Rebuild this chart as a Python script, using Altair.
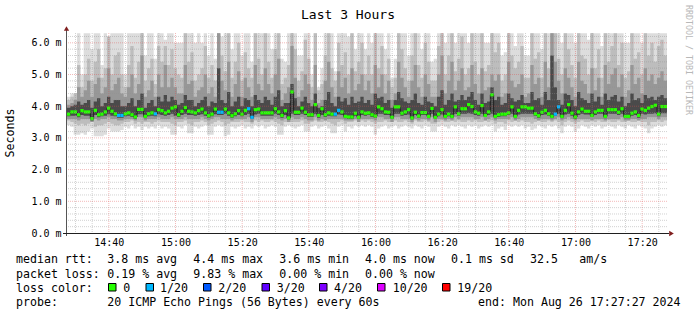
import altair as alt
import pandas as pd

MONO = "DejaVu Sans Mono"
START = pd.Timestamp("2024-08-26 14:27:27")

# median RTT per minute (ms)
median = [
    3.75, 3.82, 3.82, 3.73, 3.86, 3.82, 3.82, 3.61, 3.87, 3.73, 3.75, 3.82, 3.94, 3.84, 3.76,
    3.71, 3.71, 3.76, 3.79, 3.73, 3.66, 3.90, 3.90, 3.68, 3.76, 3.79, 3.76, 3.89, 3.86, 3.79,
    3.84, 3.94, 3.98, 3.73, 3.84, 3.96, 3.84, 3.82, 3.79, 3.86, 3.91, 3.79, 3.70, 3.75, 3.91,
    3.81, 3.81, 3.91, 3.79, 3.70, 3.76, 3.86, 3.75, 3.87, 3.92, 3.65, 3.89, 3.91, 3.79, 3.79,
    3.79, 3.79, 3.92, 3.82, 3.71, 3.86, 3.63, 4.45, 3.81, 3.81, 3.94, 3.81, 3.73, 3.73, 4.05,
    3.71, 3.92, 3.73, 3.79, 3.75, 3.75, 3.87, 3.82, 3.68, 3.66, 3.66, 3.78, 3.65, 3.82, 3.78,
    3.79, 3.73, 3.69, 3.98, 3.92, 3.82, 3.81, 3.65, 3.98, 3.98, 3.78, 3.82, 3.89, 3.63, 3.81,
    3.69, 3.80, 3.80, 3.68, 3.93, 3.65, 3.75, 3.89, 3.68, 3.75, 3.68, 3.98, 3.76, 3.92, 3.92,
    4.05, 3.99, 3.82, 3.78, 4.02, 3.71, 3.82, 4.36, 3.68, 3.73, 3.75, 3.75, 3.79, 3.98, 3.68,
    3.87, 3.98, 3.98, 3.94, 3.94, 3.76, 3.70, 3.81, 3.87, 3.76, 3.68, 3.75, 3.98, 3.68, 3.87,
    4.05, 3.78, 3.66, 3.82, 3.91, 3.84, 3.84, 3.71, 3.82, 3.87, 3.87, 3.68, 3.89, 3.89, 3.89,
    3.81, 3.92, 3.68, 3.68, 3.78, 3.82, 3.71, 3.91, 3.87, 3.94, 3.99, 4.03, 3.75, 3.99, 3.99,
]

# lost pings per minute (out of 20)
loss = [
    0, 0, 0, 0, 0, 0, 0, 0, 0, 0, 0, 0, 0, 0, 0, 1, 1, 0, 0, 0, 0, 0, 0, 0, 0, 0, 1, 0, 0, 0,
    0, 0, 0, 0, 0, 0, 0, 0, 0, 0, 0, 0, 0, 0, 0, 1, 1, 0, 0, 0, 0, 0, 0, 0, 1, 1, 0, 0, 0, 0,
    0, 0, 0, 0, 0, 0, 0, 0, 0, 0, 0, 0, 0, 0, 0, 0, 0, 0, 0, 0, 1, 1, 0, 0, 0, 0, 0, 0, 0, 0,
    0, 0, 0, 0, 0, 0, 0, 0, 0, 0, 0, 0, 0, 0, 0, 0, 0, 0, 0, 0, 0, 0, 0, 0, 0, 0, 0, 0, 0, 0,
    0, 0, 0, 0, 0, 0, 0, 0, 0, 0, 0, 0, 0, 0, 0, 0, 0, 0, 0, 0, 0, 0, 0, 0, 0, 0, 1, 1, 0, 0,
    0, 0, 0, 0, 0, 0, 0, 0, 0, 0, 0, 0, 0, 0, 0, 0, 0, 0, 0, 0, 0, 0, 0, 0, 0, 0, 0, 0, 0, 0,
]

# smoke: outer ping range (max / min)
hi1 = [
    4.3, 4.4, 4.4, 6.3, 5.0, 6.3, 6.3, 5.8, 6.3, 6.3, 5.3, 6.3, 6.2, 6.3, 6.3,
    6.3, 6.3, 5.0, 6.3, 6.3, 6.3, 6.3, 6.3, 5.6, 6.3, 6.3, 5.5, 6.3, 6.3, 6.1,
    6.3, 6.3, 6.0, 6.0, 6.0, 6.3, 6.3, 6.3, 6.0, 6.3, 6.0, 6.3, 5.6, 6.3, 5.5,
    6.3, 6.2, 6.3, 6.3, 5.8, 6.3, 6.3, 5.6, 6.3, 6.3, 5.4, 6.3, 6.3, 6.3, 6.3,
    6.3, 5.8, 6.3, 6.3, 5.5, 5.4, 6.3, 6.3, 6.3, 5.6, 5.6, 6.3, 6.3, 5.0, 6.3,
    4.6, 5.2, 6.3, 6.3, 6.3, 5.1, 6.3, 6.3, 6.3, 6.2, 6.3, 5.8, 6.3, 6.3, 5.8,
    6.3, 6.0, 6.3, 6.3, 6.3, 5.8, 6.3, 4.9, 5.5, 6.3, 6.3, 6.3, 5.6, 6.3, 6.3,
    6.3, 5.8, 6.3, 6.3, 5.4, 5.5, 6.3, 6.3, 6.0, 6.3, 6.3, 6.0, 6.3, 6.3, 6.3,
    6.0, 6.3, 6.3, 6.3, 6.3, 6.0, 6.0, 6.3, 6.3, 6.3, 5.6, 5.7, 6.3, 6.3, 5.9,
    6.3, 6.3, 5.6, 5.6, 6.3, 6.3, 6.3, 5.8, 6.3, 6.3, 6.3, 6.3, 6.3, 6.0, 6.3,
    6.3, 6.3, 6.0, 6.3, 6.3, 6.3, 6.1, 6.3, 6.3, 6.3, 5.9, 6.3, 6.3, 6.3, 6.3,
    6.3, 6.3, 6.0, 6.0, 6.3, 6.3, 6.3, 6.0, 6.3, 6.3, 6.3, 6.3, 6.3, 6.3, 6.3,
]
lo1 = [
    3.4, 3.35, 3.1, 3.1, 3.15, 3.1, 3.2, 3.3, 3.05, 3.05, 3.05, 3.1, 3.3, 3.2, 3.2,
    3.2, 3.25, 3.35, 3.3, 3.4, 3.3, 3.35, 3.25, 3.35, 3.3, 3.35, 3.3, 3.4, 3.3, 3.35,
    3.3, 3.1, 3.1, 3.35, 3.3, 3.4, 3.15, 3.15, 3.35, 3.3, 3.35, 3.4, 3.1, 3.1, 3.35,
    3.4, 3.35, 3.05, 3.1, 3.35, 3.3, 3.35, 3.4, 3.3, 3.35, 3.3, 3.4, 3.35, 3.4, 3.3,
    3.35, 3.4, 3.35, 3.1, 3.1, 3.35, 3.4, 3.35, 3.3, 3.35, 3.4, 3.2, 3.2, 3.35, 3.4,
    3.3, 3.35, 3.4, 3.3, 3.15, 3.15, 3.35, 3.4, 3.2, 3.35, 3.3, 3.4, 3.35, 3.4, 3.35,
    3.4, 3.35, 3.1, 3.3, 3.35, 3.4, 3.3, 3.35, 3.4, 3.3, 3.35, 3.4, 3.35, 3.3, 3.4,
    3.35, 3.3, 3.4, 3.35, 3.2, 3.2, 3.35, 3.4, 3.35, 3.3, 3.4, 3.35, 3.4, 3.35, 3.3,
    3.4, 3.35, 3.4, 3.3, 3.35, 3.4, 3.35, 3.4, 3.2, 3.3, 3.35, 3.25, 3.4, 3.35, 3.4,
    3.35, 3.4, 3.3, 3.35, 3.25, 3.3, 3.4, 3.35, 3.3, 3.4, 3.35, 3.4, 3.3, 3.15, 3.35,
    3.4, 3.35, 3.2, 3.3, 3.4, 3.35, 3.3, 3.4, 3.35, 3.4, 3.3, 3.35, 3.4, 3.35, 3.3,
    3.4, 3.35, 3.3, 3.4, 3.35, 3.3, 3.4, 3.35, 3.3, 3.15, 3.3, 3.35, 3.4, 3.35, 3.4,
]
# smoke: second band
hi2 = [
    4.2, 4.3, 4.4, 5.3, 4.6, 5.0, 5.5, 4.8, 5.4, 5.8, 4.9, 5.2, 6.2, 5.0, 5.6,
    5.7, 5.0, 4.6, 5.3, 5.9, 4.9, 5.4, 6.3, 4.8, 5.2, 5.5, 4.7, 5.9, 5.4, 5.9,
    5.3, 5.8, 5.2, 5.0, 4.9, 6.3, 5.4, 5.7, 4.8, 5.0, 5.2, 5.9, 4.9, 5.3, 4.8,
    6.3, 5.6, 5.1, 6.3, 4.9, 5.4, 6.0, 4.8, 5.7, 5.2, 4.9, 6.3, 5.5, 5.0, 6.3,
    5.4, 4.9, 5.8, 6.3, 4.7, 4.9, 5.3, 6.3, 5.8, 4.8, 5.1, 6.1, 5.5, 4.6, 6.3,
    4.5, 4.7, 5.6, 6.3, 5.2, 4.8, 6.0, 5.3, 5.7, 5.0, 6.3, 5.1, 5.4, 6.0, 5.0,
    5.6, 5.0, 6.3, 5.2, 5.9, 5.0, 5.5, 4.6, 4.9, 6.3, 5.8, 5.2, 4.8, 5.6, 6.3,
    5.3, 4.9, 6.0, 5.4, 4.8, 4.8, 5.9, 6.3, 5.0, 5.6, 6.3, 5.1, 5.5, 6.2, 5.0,
    5.2, 6.3, 5.4, 5.0, 6.3, 5.1, 5.3, 6.3, 5.7, 6.0, 4.8, 5.0, 6.3, 5.6, 5.2,
    5.4, 5.9, 4.9, 4.9, 6.3, 5.5, 5.7, 4.9, 6.3, 5.2, 6.3, 6.3, 5.5, 5.0, 6.3,
    5.8, 5.3, 4.9, 6.3, 5.6, 5.5, 5.0, 6.3, 5.2, 5.8, 4.9, 6.3, 5.4, 5.9, 6.3,
    5.3, 6.0, 4.9, 5.1, 6.3, 5.5, 5.7, 5.0, 6.3, 5.6, 6.0, 5.4, 5.9, 6.1, 5.6,
]
lo2 = [
    3.55, 3.5, 3.45, 3.4, 3.45, 3.4, 3.45, 3.5, 3.35, 3.4, 3.4, 3.45, 3.5, 3.45, 3.4,
    3.4, 3.45, 3.5, 3.5, 3.55, 3.45, 3.5, 3.45, 3.5, 3.5, 3.45, 3.5, 3.55, 3.5, 3.5,
    3.5, 3.45, 3.4, 3.5, 3.5, 3.55, 3.45, 3.4, 3.5, 3.5, 3.55, 3.5, 3.4, 3.45, 3.5,
    3.55, 3.5, 3.4, 3.45, 3.5, 3.5, 3.5, 3.55, 3.5, 3.5, 3.45, 3.55, 3.5, 3.55, 3.5,
    3.5, 3.55, 3.5, 3.45, 3.4, 3.5, 3.5, 3.5, 3.5, 3.5, 3.55, 3.45, 3.45, 3.5, 3.55,
    3.5, 3.5, 3.55, 3.5, 3.45, 3.4, 3.5, 3.55, 3.45, 3.5, 3.5, 3.55, 3.5, 3.55, 3.5,
    3.55, 3.5, 3.45, 3.5, 3.5, 3.55, 3.5, 3.5, 3.55, 3.5, 3.5, 3.55, 3.5, 3.45, 3.55,
    3.5, 3.5, 3.55, 3.5, 3.45, 3.45, 3.5, 3.55, 3.5, 3.5, 3.55, 3.5, 3.55, 3.5, 3.5,
    3.55, 3.5, 3.55, 3.5, 3.5, 3.55, 3.5, 3.55, 3.45, 3.5, 3.5, 3.45, 3.55, 3.5, 3.55,
    3.5, 3.55, 3.5, 3.5, 3.45, 3.5, 3.55, 3.5, 3.5, 3.55, 3.5, 3.55, 3.5, 3.4, 3.5,
    3.55, 3.5, 3.45, 3.5, 3.55, 3.5, 3.5, 3.55, 3.5, 3.55, 3.5, 3.5, 3.55, 3.5, 3.5,
    3.55, 3.5, 3.5, 3.55, 3.5, 3.5, 3.55, 3.5, 3.5, 3.4, 3.5, 3.5, 3.55, 3.5, 3.55,
]
# smoke: third band
hi3 = [
    4.05, 4.1, 4.2, 4.6, 4.3, 4.5, 4.8, 4.3, 4.7, 4.9, 4.4, 4.6, 5.2, 4.5, 4.7,
    4.9, 4.4, 4.3, 4.6, 5.0, 4.4, 4.7, 5.6, 4.3, 4.5, 4.8, 4.3, 5.0, 4.6, 5.3,
    4.6, 4.9, 4.6, 4.4, 4.4, 5.3, 4.7, 4.8, 4.3, 4.5, 4.6, 5.0, 4.4, 4.6, 4.3,
    6.3, 4.8, 4.5, 5.4, 4.3, 4.7, 5.1, 4.3, 4.9, 4.6, 4.3, 5.3, 4.7, 4.5, 5.2,
    4.7, 4.4, 5.0, 5.5, 4.2, 4.4, 4.6, 5.9, 4.9, 4.3, 4.5, 5.0, 4.7, 4.2, 5.3,
    4.1, 4.2, 4.8, 5.4, 4.6, 4.3, 5.1, 4.6, 4.9, 4.4, 5.2, 4.5, 4.7, 5.0, 4.5,
    4.8, 4.4, 5.3, 4.6, 5.0, 4.4, 4.8, 4.2, 4.4, 5.4, 4.9, 4.6, 4.3, 4.8, 5.3,
    4.6, 4.3, 5.0, 4.7, 4.3, 4.3, 5.0, 5.6, 4.4, 4.8, 5.4, 4.5, 4.8, 5.2, 4.5,
    4.6, 5.3, 4.7, 4.4, 5.2, 4.5, 4.6, 5.0, 4.8, 5.0, 4.3, 4.4, 5.4, 4.8, 4.6,
    4.7, 5.0, 4.3, 4.4, 5.3, 4.7, 4.9, 4.3, 5.4, 4.6, 6.3, 5.4, 4.8, 4.4, 5.2,
    4.9, 4.6, 4.3, 5.4, 4.8, 4.7, 4.4, 5.2, 4.5, 4.9, 4.3, 5.3, 4.7, 5.0, 5.2,
    4.6, 5.0, 4.3, 4.5, 5.3, 4.7, 4.9, 4.4, 5.2, 4.8, 5.0, 4.7, 4.9, 5.1, 4.8,
]
lo3 = [
    3.6, 3.6, 3.6, 3.55, 3.6, 3.6, 3.6, 3.5, 3.6, 3.55, 3.6, 3.6, 3.65, 3.6, 3.6,
    3.55, 3.55, 3.6, 3.6, 3.6, 3.55, 3.65, 3.65, 3.55, 3.6, 3.6, 3.6, 3.65, 3.6, 3.6,
    3.6, 3.65, 3.6, 3.6, 3.6, 3.65, 3.6, 3.6, 3.6, 3.6, 3.65, 3.6, 3.55, 3.6, 3.65,
    3.65, 3.6, 3.6, 3.6, 3.55, 3.6, 3.6, 3.6, 3.6, 3.65, 3.5, 3.65, 3.65, 3.6, 3.6,
    3.6, 3.6, 3.65, 3.6, 3.55, 3.6, 3.5, 3.65, 3.6, 3.6, 3.65, 3.6, 3.55, 3.55, 3.65,
    3.55, 3.6, 3.55, 3.6, 3.6, 3.6, 3.6, 3.6, 3.55, 3.55, 3.55, 3.6, 3.5, 3.6, 3.6,
    3.6, 3.6, 3.55, 3.65, 3.65, 3.6, 3.6, 3.5, 3.65, 3.65, 3.6, 3.6, 3.6, 3.5, 3.6,
    3.55, 3.6, 3.6, 3.55, 3.65, 3.5, 3.6, 3.6, 3.55, 3.6, 3.55, 3.65, 3.6, 3.65, 3.65,
    3.65, 3.65, 3.6, 3.6, 3.65, 3.55, 3.6, 3.65, 3.55, 3.6, 3.6, 3.6, 3.6, 3.65, 3.55,
    3.6, 3.65, 3.65, 3.65, 3.65, 3.6, 3.55, 3.6, 3.6, 3.6, 3.55, 3.6, 3.65, 3.55, 3.6,
    3.65, 3.6, 3.55, 3.6, 3.6, 3.6, 3.6, 3.55, 3.6, 3.6, 3.6, 3.55, 3.6, 3.6, 3.6,
    3.6, 3.65, 3.55, 3.55, 3.6, 3.6, 3.55, 3.6, 3.6, 3.65, 3.65, 3.65, 3.6, 3.65, 3.65,
]
# smoke: dark core
hi4 = [
    3.95, 4.0, 4.05, 4.15, 4.05, 4.1, 4.2, 3.95, 4.15, 4.25, 4.0, 4.1, 4.3, 4.1, 4.2,
    4.2, 4.0, 4.0, 4.1, 4.25, 4.0, 4.2, 4.4, 3.95, 4.1, 4.2, 4.0, 4.3, 4.15, 4.35,
    4.15, 4.3, 4.2, 4.05, 4.1, 4.35, 4.2, 4.2, 4.0, 4.1, 4.2, 4.3, 4.0, 4.15, 4.1,
    5.2, 4.2, 4.1, 4.45, 4.0, 4.15, 4.3, 4.0, 4.25, 4.2, 4.0, 4.35, 4.2, 4.1, 4.3,
    4.2, 4.05, 4.3, 4.5, 4.0, 4.1, 4.1, 4.7, 4.25, 4.0, 4.15, 4.3, 4.1, 4.0, 4.4,
    3.95, 4.0, 4.2, 4.45, 4.1, 4.0, 4.3, 4.15, 4.25, 4.05, 4.3, 4.1, 4.15, 4.3, 4.1,
    4.2, 4.05, 4.4, 4.25, 4.3, 4.1, 4.2, 3.95, 4.2, 4.45, 4.25, 4.15, 4.1, 4.2, 4.4,
    4.1, 4.05, 4.3, 4.15, 4.1, 4.0, 4.3, 4.5, 4.05, 4.2, 4.4, 4.15, 4.2, 4.35, 4.2,
    4.3, 4.45, 4.2, 4.05, 4.4, 4.1, 4.15, 4.6, 4.2, 4.3, 4.05, 4.1, 4.4, 4.25, 4.15,
    4.2, 4.35, 4.1, 4.1, 4.45, 4.2, 4.25, 4.05, 4.45, 4.2, 5.6, 4.6, 4.2, 4.05, 4.4,
    4.35, 4.2, 4.0, 4.45, 4.25, 4.2, 4.1, 4.4, 4.15, 4.3, 4.05, 4.4, 4.2, 4.3, 4.35,
    4.15, 4.3, 4.0, 4.1, 4.4, 4.2, 4.25, 4.1, 4.35, 4.25, 4.3, 4.2, 4.3, 4.35, 4.25,
]
lo4 = [
    3.68, 3.7, 3.7, 3.65, 3.72, 3.7, 3.7, 3.55, 3.72, 3.65, 3.68, 3.7, 3.75, 3.7, 3.68,
    3.64, 3.64, 3.68, 3.7, 3.66, 3.6, 3.75, 3.75, 3.62, 3.68, 3.7, 3.68, 3.75, 3.72, 3.7,
    3.72, 3.76, 3.7, 3.66, 3.72, 3.76, 3.72, 3.72, 3.7, 3.72, 3.75, 3.7, 3.64, 3.68, 3.75,
    3.72, 3.72, 3.76, 3.7, 3.64, 3.68, 3.72, 3.68, 3.72, 3.76, 3.6, 3.74, 3.76, 3.7, 3.7,
    3.7, 3.7, 3.76, 3.72, 3.64, 3.72, 3.58, 3.76, 3.72, 3.72, 3.76, 3.72, 3.66, 3.66, 3.76,
    3.64, 3.72, 3.66, 3.7, 3.68, 3.68, 3.74, 3.72, 3.62, 3.6, 3.6, 3.7, 3.6, 3.72, 3.7,
    3.72, 3.66, 3.64, 3.76, 3.76, 3.72, 3.72, 3.6, 3.76, 3.76, 3.7, 3.72, 3.74, 3.58, 3.72,
    3.64, 3.72, 3.72, 3.62, 3.76, 3.6, 3.68, 3.74, 3.62, 3.68, 3.62, 3.76, 3.7, 3.76, 3.76,
    3.78, 3.76, 3.72, 3.7, 3.76, 3.66, 3.72, 3.76, 3.62, 3.66, 3.68, 3.68, 3.72, 3.76, 3.62,
    3.74, 3.76, 3.76, 3.76, 3.76, 3.7, 3.64, 3.72, 3.74, 3.7, 3.62, 3.7, 3.76, 3.62, 3.74,
    3.76, 3.7, 3.6, 3.72, 3.76, 3.74, 3.74, 3.66, 3.72, 3.76, 3.76, 3.62, 3.76, 3.76, 3.76,
    3.72, 3.76, 3.62, 3.62, 3.7, 3.72, 3.64, 3.76, 3.74, 3.76, 3.76, 3.78, 3.68, 3.78, 3.78,
]

loss_levels = [0, 1, 2, 3, 4, 10, 19]
loss_labels = ["0", "1/20", "2/20", "3/20", "4/20", "10/20", "19/20"]
loss_colors = ["#26ff00", "#00b8ff", "#0059ff", "#5e00ff", "#7e00ff", "#dd00ff", "#ff0000"]

legend_rows = [
    ["median rtt:", "3.8 ms avg", "4.4 ms max", "3.6 ms min", "4.0 ms now", "0.1 ms sd", "32.5", "am/s"],
    ["packet loss:", "0.19 % avg", "9.83 % max", "0.00 % min", "0.00 % now"],
    ["loss color:"],
    ["probe:", "20 ICMP Echo Pings (56 Bytes) every 60s"],
]
end_label = "end: Mon Aug 26 17:27:27 2024"

N = len(median)
for arr in (loss, hi1, lo1, hi2, lo2, hi3, lo3, hi4, lo4):
    assert len(arr) == N


def ms(ts):
    # epoch milliseconds (UTC)
    return int((ts - pd.Timestamp("1970-01-01")) / pd.Timedelta(milliseconds=1))


t_start = [ms(START + pd.Timedelta(minutes=i)) for i in range(N)]
t_end = [ms(START + pd.Timedelta(minutes=i + 1)) for i in range(N)]
df = pd.DataFrame({"t": t_start, "t2": t_end, "median": median, "loss": loss,
                   "hi1": hi1, "lo1": lo1, "hi2": hi2, "lo2": lo2,
                   "hi3": hi3, "lo3": lo3, "hi4": hi4, "lo4": lo4})
last = df.iloc[[-1]].copy()
last["t"] = t_end[-1]
df_step = pd.concat([df, last], ignore_index=True)

T0 = ms(START)
T1 = ms(START + pd.Timedelta(hours=3))
xs = alt.Scale(type="utc", nice=False, domain=[T0, T1])
ys = alt.Scale(domain=[0, 6.31], nice=False, zero=False)

major_times = list(pd.date_range("2024-08-26 14:40", "2024-08-26 17:20", freq="20min"))
minor_times = [ts for ts in pd.date_range("2024-08-26 14:30", "2024-08-26 17:25", freq="5min") if ts.minute % 20 != 0]

X_AXIS = alt.Axis(values=[ms(ts) for ts in major_times], labelExpr="utcFormat(datum.value, '%H:%M')",
                  grid=False, domain=False, ticks=False, labelFont=MONO, labelFontSize=10,
                  labelColor="#000000", labelPadding=4, title=None, labelFlush=False)
Y_AXIS = alt.Axis(values=[0, 1, 2, 3, 4, 5, 6], labelExpr="format(datum.value, '.1f') + ' m'",
                  grid=False, domain=False, ticks=False, labelFont=MONO, labelFontSize=10,
                  labelColor="#000000", labelPadding=6, title=None)


def X(field):
    return alt.X(field, type="temporal", scale=xs, axis=X_AXIS)


def Y(field):
    return alt.Y(field, type="quantitative", scale=ys, axis=Y_AXIS)


def band(lo, hi, color):
    return alt.Chart(df_step).mark_area(interpolate="step-after", color=color, opacity=1).encode(
        x=X("t"), y=Y(hi), y2=alt.Y2(lo))


layers = [
    band("lo1", "hi1", "#dddddd"),
    band("lo2", "hi2", "#bdbdbd"),
    band("lo3", "hi3", "#979797"),
    band("lo4", "hi4", "#4a4a4a"),
]

# median line
layers.append(alt.Chart(df_step).mark_line(interpolate="step-after", color="#202020", strokeWidth=1).encode(
    x=X("t"), y=Y("median")))
# loss-coloured median blocks
layers.append(alt.Chart(df).mark_rule(strokeWidth=3.2).encode(
    x=X("t"), x2=alt.X2("t2"), y=Y("median"),
    color=alt.Color("loss:O", scale=alt.Scale(domain=loss_levels, range=loss_colors), legend=None)))

# grid (drawn on top, as rrdtool does)
minor_y = [round(0.2 * k, 1) for k in range(1, 32) if k % 5 != 0]
major_y = [1, 2, 3, 4, 5, 6]
MINOR = "rgba(143,143,143,0.4)"
MAJOR = "rgba(222,79,79,0.4)"
for vals, col in (([ms(t) for t in minor_times], MINOR), ([ms(t) for t in major_times], MAJOR)):
    layers.append(alt.Chart(pd.DataFrame({"gt": vals})).mark_rule(color=col, strokeDash=[1, 1], strokeWidth=1).encode(
        x=X("gt")))
for vals, col in ((minor_y, MINOR), (major_y, MAJOR)):
    layers.append(alt.Chart(pd.DataFrame({"gv": vals})).mark_rule(color=col, strokeDash=[1, 1], strokeWidth=1).encode(
        y=Y("gv")))

OX, OY = 67, 33  # plot origin in the page


def px(x):
    return alt.value(x - OX)


def py(y):
    return alt.value(y - OY)


one = pd.DataFrame({"a": [0]})
ARROW = "#801f1f"
# axis lines and arrows
layers.append(alt.Chart(one).mark_rule(color="#555555", strokeWidth=1).encode(x=px(66.5), y=py(236), y2=py(30)))
layers.append(alt.Chart(one).mark_rule(color="#1f1f1f", strokeWidth=1).encode(x=px(63), x2=px(669), y=py(233.5)))
layers.append(alt.Chart(one).mark_point(shape="triangle-up", filled=True, size=28, color=ARROW, opacity=1).encode(
    x=px(66.5), y=py(28.5)))
layers.append(alt.Chart(one).mark_point(shape="triangle-right", filled=True, size=28, color=ARROW, opacity=1).encode(
    x=px(671.5), y=py(233.5)))


def txt(s, x, y, size=11.6, color="#000000", angle=None, align="left", baseline="alphabetic"):
    kw = dict(font=MONO, fontSize=size, color=color, align=align, baseline=baseline)
    if angle is not None:
        kw["angle"] = angle
    return alt.Chart(pd.DataFrame({"s": [s]})).mark_text(**kw).encode(text="s:N", x=px(x), y=py(y))


layers.append(txt("Last 3 Hours", 348, 18.5, size=13, align="center"))
layers.append(txt("Seconds", 11, 133, angle=270, align="center", baseline="middle"))
layers.append(txt("RRDTOOL / TOBI OETIKER", 687.5, 60, size=8.3, color="#b8b8b8", angle=90,
                  align="center", baseline="middle"))

row_y = [263.3, 277.5, 291.7, 305.8]
seg_x = [16, 107.3, 193.3, 279.3, 365, 451, 530, 579.3]
for r, row in enumerate(legend_rows):
    for i, s in enumerate(row):
        layers.append(txt(s, seg_x[i], row_y[r]))
layers.append(txt(end_label, 680.5, row_y[3], align="right"))

box_x = [108.5, 146, 203.5, 262, 319.5, 377.5, 442.5]
lab_x = [123.3, 160, 218.3, 276.7, 334, 392.7, 457.3]
for bx, lx, lab, col in zip(box_x, lab_x, loss_labels, loss_colors):
    layers.append(alt.Chart(one).mark_rect(color=col, stroke="#000000", strokeWidth=1).encode(
        x=px(bx), x2=px(bx + 7.5), y=py(283.5), y2=py(291)))
    layers.append(txt(lab, lx, row_y[2]))

chart = alt.layer(*layers).properties(
    width=600, height=200,
    autosize=alt.AutoSizeParams(type="none"),
    padding={"left": OX, "top": OY, "right": 697 - OX - 600, "bottom": 315 - OY - 200},
    background="#ffffff",
).configure_view(stroke=None)

chart.save("out.html", embed_options={"renderer": "svg", "actions": False})
